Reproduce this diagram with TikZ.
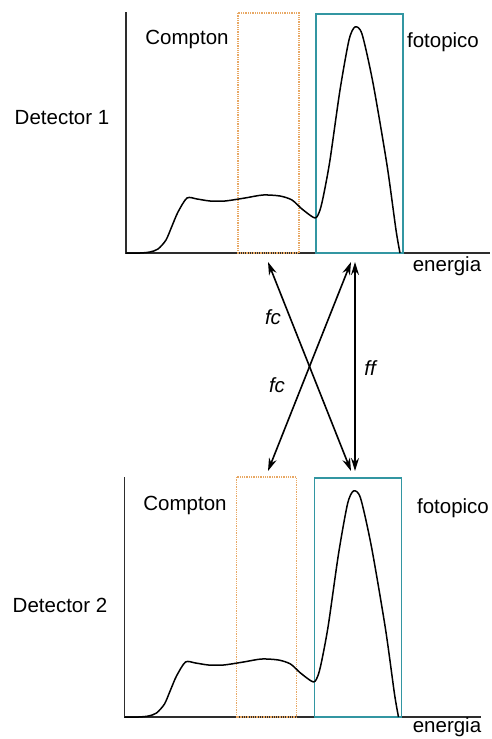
\documentclass[tikz,border=0pt]{standalone}
\usepackage{fontspec}
\setmainfont{Liberation Sans}
\usetikzlibrary{arrows.meta}
\definecolor{compcol}{RGB}{232,168,100}
\definecolor{fotocol}{RGB}{50,150,162}
\definecolor{axcol}{RGB}{45,45,45}
\tikzset{
  axisline/.style={draw=axcol, line width=1.4pt},
  spectrum/.style={draw=black, line width=1.5pt, line join=round},
  comptonbox/.style={draw=compcol, line width=1.3pt, densely dotted},
  fotobox/.style={draw=fotocol, line width=1.6pt},
  lbl/.style={font=\fontsize{20.5}{24}\selectfont, inner sep=0pt},
  ilbl/.style={font=\fontsize{20.5}{24}\selectfont\itshape, inner sep=0pt},
  dblarrow/.style={draw=black, line width=1.6pt, {Stealth[length=13pt,width=8pt]}-{Stealth[length=13pt,width=8pt]}}
}
\begin{document}
\begin{tikzpicture}[x=1pt,y=-1pt]
\useasboundingbox (0,0) rectangle (492,739);
% ---------- Detector 1 ----------
\begin{scope}
\draw[axisline] (126,12) -- (126,253) -- (490,253);
\draw[comptonbox] (238,13) rectangle (299,253);
\draw[fotobox] (316,14) rectangle (403,253);
\draw[spectrum] plot[smooth, tension=0.45] coordinates {
 (126,253) (140,253) (150,252) (158,249) (166,240) (172,226) (178,212) (187,198)
 (197,199) (210,201) (225,201) (245,198) (263,195) (280,196) (292,200) (302,209) (315,218)
 (320,210) (324,193) (330,160) (340,90) (349,40) (355,27) (362,34) (373,83) (387,165) (396,230) (400,253)};
\node[lbl] (compton1) at (187,39) {Compton};
\node[lbl] (foto1) at (443,42) {fotopico};
\node[lbl] (energia1) at (447,266) {energia};
\node[lbl] (det1) at (62,118) {Detector 1};
\end{scope}
% ---------- Detector 2 ----------
\begin{scope}[yshift=-464pt, xshift=-1.5pt]
\draw[axisline] (126,13) -- (126,253) -- (482,253);
\draw[comptonbox] (238,13) rectangle (298,253);
\draw[fotobox] (316,14) rectangle (403,253);
\draw[spectrum] plot[smooth, tension=0.45] coordinates {
 (126,253) (140,253) (150,252) (158,249) (166,240) (172,226) (178,212) (187,198)
 (197,199) (210,201) (225,201) (245,198) (263,195) (280,196) (292,200) (302,209) (315,218)
 (320,210) (324,193) (330,160) (340,90) (349,40) (355,27) (362,34) (373,83) (387,165) (396,230) (400,253)};
\end{scope}
\node[lbl] (compton2) at (185,505) {Compton};
\node[lbl] (foto2) at (453,508) {fotopico};
\node[lbl] (energia2) at (447,727) {energia};
\node[lbl] (det2) at (60,605) {Detector 2};
% ---------- arrows ----------
\coordinate (cA) at (268,262);
\coordinate (fA) at (351,262);
\coordinate (cB) at (268,471);
\coordinate (fB) at (351,471);
\coordinate (fAv) at (355,262);
\coordinate (fBv) at (355,471);
\draw[dblarrow] (cA) -- (fB);
\draw[dblarrow] (fA) -- (cB);
\draw[dblarrow] (fAv) -- (fBv);
\node[ilbl] (fc1) at (273,317) {fc};
\node[ilbl] (fc2) at (277,385) {fc};
\node[ilbl] (ff) at (370,368) {ff};
\end{tikzpicture}
\end{document}
